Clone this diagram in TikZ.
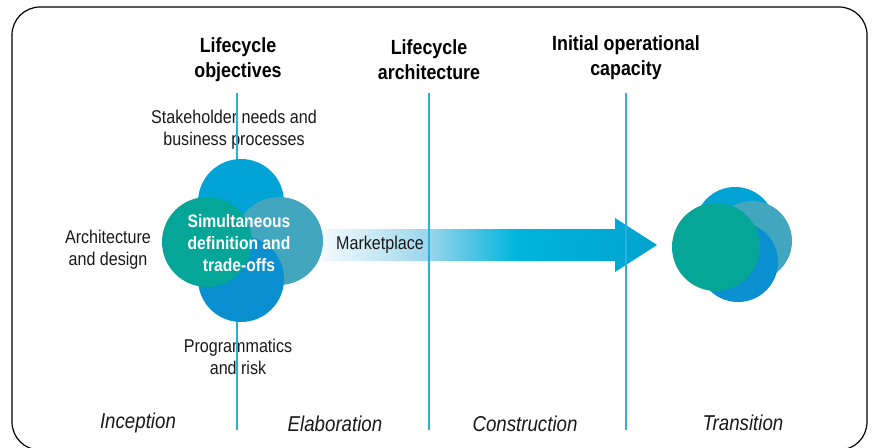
\documentclass[tikz,border=0pt]{standalone}
\usepackage{fontspec}
\setmainfont{Liberation Sans}[FakeStretch=0.87]
\definecolor{mktA}{HTML}{F2FAFD}
\definecolor{mktB}{HTML}{CDEBF5}
\definecolor{mktC}{HTML}{99D5EB}
\definecolor{mktD}{HTML}{00B5DD}
\definecolor{mktE}{HTML}{00A2CE}
\pgfdeclarehorizontalshading{mktshade}{100bp}{%
  color(0bp)=(white);
  color(25bp)=(mktA);
  color(32bp)=(mktB);
  color(41bp)=(mktC);
  color(54bp)=(mktD);
  color(75bp)=(mktE);
  color(100bp)=(mktE)}
\definecolor{phaseline}{HTML}{2DAFD7}
\definecolor{ctop}{HTML}{00A3D3}
\definecolor{cright}{HTML}{42A6BF}
\definecolor{cbottom}{HTML}{0A8FD0}
\definecolor{cleft}{HTML}{05A598}
\begin{document}
\begin{tikzpicture}[x=1pt,y=-1pt,
  milestone/.style={font=\fontsize{20.5}{25}\selectfont\bfseries, align=center, inner sep=0},
  body/.style={font=\fontsize{18.5}{22}\selectfont, align=center, inner sep=0, text=black!90},
  phase/.style={font=\fontsize{21.5}{25}\selectfont\itshape, inner sep=0, text=black!90},
  centretext/.style={font=\fontsize{18}{22}\selectfont\bfseries, align=center, inner sep=0, text=white},
  vline/.style={draw=phaseline, line width=2pt},
  frame/.style={draw=black, line width=1.2pt, rounded corners=28pt}]
\useasboundingbox (0,0) rectangle (872,447);
\draw[frame] (12,7) rectangle (867,450);
% texts
\node[milestone] (m1) at (238,60) {Lifecycle\\objectives};
\node[milestone] (m2) at (429,60) {Lifecycle\\architecture};
\node[milestone] (m3) at (626,58) {Initial operational\\capacity};
\node[body] (stake) at (234,130) {Stakeholder needs and\\business processes};
\node[body] (arch) at (108,250) {Architecture\\and design};
\node[body] (prog) at (238,357) {Programmatics\\and risk};
\node[phase] (p1) at (138,423) {Inception};
\node[phase] (p2) at (335,424) {Elaboration};
\node[phase] (p3) at (525,424) {Construction};
\node[phase] (p4) at (743,423) {Transition};
% arrow
\shade[shading=mktshade] (322,229) -- (615,229) -- (615,218) -- (657,245) -- (615,272) -- (615,261) -- (322,261) -- cycle;
\node[body, anchor=west] (market) at (336,245) {Marketplace};
% phase lines
\coordinate (l1t) at (237,93); \coordinate (l1b) at (237,430);
\coordinate (l2t) at (429,93); \coordinate (l2b) at (429,430);
\coordinate (l3t) at (626,93); \coordinate (l3b) at (626,430);
\draw[vline] (l1t) -- (l1b);
\draw[vline] (l2t) -- (l2b);
\draw[vline] (l3t) -- (l3b);
% left cluster
\fill[ctop] (241,202) circle (43);
\fill[cright] (279,241) circle (44);
\fill[cbottom] (241,279) circle (43);
\fill[cleft] (207,242) circle (45);
\node[centretext] (centre) at (239,243) {Simultaneous\\definition and\\trade-offs};
% right cluster
\fill[ctop] (735,227) circle (40);
\fill[cright] (752,241) circle (40);
\fill[cbottom] (738,262) circle (40);
\fill[cleft] (716,247) circle (44);
\end{tikzpicture}
\end{document}
